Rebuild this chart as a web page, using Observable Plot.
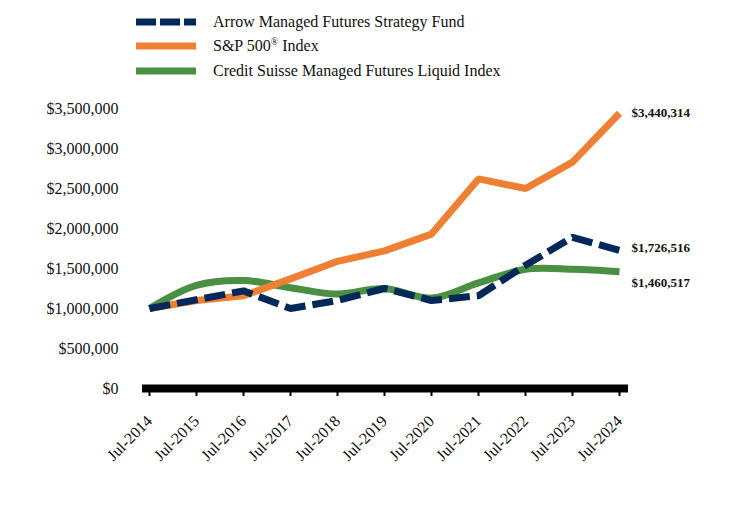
<!DOCTYPE html>
<html>
<head>
<meta charset="utf-8">
<script src="https://cdn.jsdelivr.net/npm/d3@7"></script>
<script src="https://cdn.jsdelivr.net/npm/@observablehq/plot@0.6"></script>
<style>
  body { margin: 0; background: #fff; font-family: "Liberation Serif", "Times New Roman", serif; }
  #wrap { position: relative; width: 744px; height: 516px; }
  #legend { position: absolute; left: 0; top: 0; width: 744px; }
  .item { position: absolute; left: 136px; height: 20px; display: flex; align-items: center; font-size: 16px; color: #111; }
  .item svg { width: 60px; height: 10px; margin-right: 17px; }
</style>
</head>
<body>
<div id="wrap">
  <div id="chart"></div>
  <div id="legend"></div>
</div>
<script>
const years = ["Jul-2014","Jul-2015","Jul-2016","Jul-2017","Jul-2018","Jul-2019","Jul-2020","Jul-2021","Jul-2022","Jul-2023","Jul-2024"];
const arrowFund = [1000000,1110000,1220000,1000000,1100000,1250000,1100000,1160000,1540000,1890000,1726516];
const sp500 = [1000000,1100000,1160000,1370000,1590000,1720000,1930000,2620000,2500000,2830000,3440314];
const creditSuisse = [1000000,1290000,1350000,1260000,1180000,1250000,1130000,1320000,1490000,1490000,1460517];
const yTicks = [0,500000,1000000,1500000,2000000,2500000,3000000,3500000];
const seriesNames = ["Arrow Managed Futures Strategy Fund", "S&P 500® Index", "Credit Suisse Managed Futures Liquid Index"];
const endLabels = ["$1,726,516", "$3,440,314", "$1,460,517"];

const navy = "#00295a", orange = "#ee7f33", green = "#4a8f42";

const mk = (vals) => years.map((y, i) => ({year: y, value: vals[i]}));
const dArrow = mk(arrowFund), dSP = mk(sp500), dCS = mk(creditSuisse);
const last = years.length - 1;

const fmt = d => "$" + d3.format(",")(d);

const plot = Plot.plot({
  width: 744,
  height: 516,
  marginTop: 108,
  marginBottom: 128,
  marginLeft: 148,
  marginRight: 124,
  style: {fontFamily: "'Liberation Serif', 'Times New Roman', serif", fontSize: "16px", color: "#111", background: "#fff"},
  x: {type: "point", domain: years, padding: 0},
  y: {domain: [0, 3500000]},
  marks: [
    Plot.axisY({ticks: yTicks, tickFormat: fmt, tickSize: 0, tickPadding: 30, fontSize: 16, label: null}),
    Plot.axisX({tickSize: 8, tickRotate: -45, tickPadding: 22, fontSize: 16, label: null, stroke: "#000", strokeWidth: 2}),
    Plot.ruleY([0], {stroke: "#000", strokeWidth: 8, insetLeft: -6, insetRight: -8}),
    Plot.line(dCS, {x: "year", y: "value", stroke: green, strokeWidth: 7, curve: "catmull-rom", strokeLinecap: "butt"}),
    Plot.line(dSP, {x: "year", y: "value", stroke: orange, strokeWidth: 7, strokeLinecap: "butt", strokeLinejoin: "miter"}),
    Plot.line(dArrow, {x: "year", y: "value", stroke: navy, strokeWidth: 7, strokeDasharray: "21,7", strokeLinecap: "butt", strokeLinejoin: "miter"}),
    Plot.text([dSP[last]], {x: "year", y: "value", text: () => endLabels[1], dx: 12, dy: 0, textAnchor: "start", fontWeight: "bold", fontSize: 13}),
    Plot.text([dArrow[last]], {x: "year", y: "value", text: () => endLabels[0], dx: 12, dy: -3, textAnchor: "start", fontWeight: "bold", fontSize: 13}),
    Plot.text([dCS[last]], {x: "year", y: "value", text: () => endLabels[2], dx: 12, dy: 11, textAnchor: "start", fontWeight: "bold", fontSize: 13})
  ]
});
document.getElementById("chart").appendChild(plot);

// Legend
const legend = document.getElementById("legend");
const rows = [
  {name: seriesNames[0], color: navy, dash: "20,4", top: 12},
  {name: seriesNames[1], color: orange, dash: null, top: 36},
  {name: seriesNames[2], color: green, dash: null, top: 61}
];
rows.forEach(r => {
  const div = document.createElement("div");
  div.className = "item";
  div.style.top = r.top + "px";
  const label = r.name.replace("®", "<sup style='font-size:10px'>®</sup>");
  div.innerHTML = `<svg viewBox="0 0 60 10"><line x1="0" x2="60" y1="5" y2="5" stroke="${r.color}" stroke-width="7" ${r.dash ? `stroke-dasharray="${r.dash}"` : ""}/></svg><span>${label}</span>`;
  legend.appendChild(div);
});
</script>
</body>
</html>
